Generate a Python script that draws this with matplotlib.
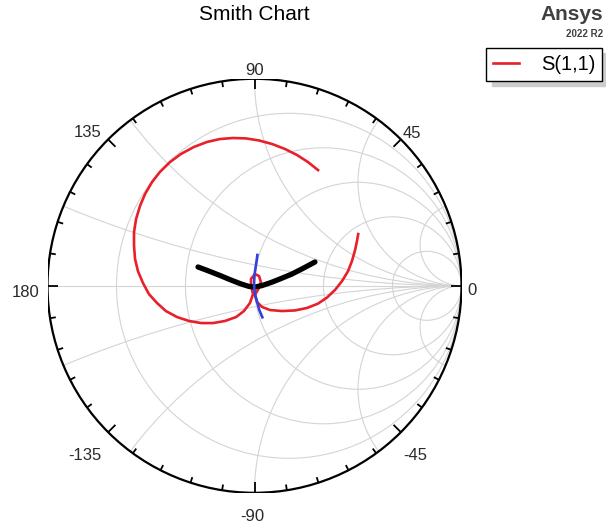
import numpy as np
import matplotlib
matplotlib.use('Agg')
import matplotlib.pyplot as plt
from matplotlib.patches import Circle

plt.rcParams['font.family'] = ['Liberation Sans', 'DejaVu Sans']

s11_re = [0.307, 0.258, 0.205, 0.147, 0.085, 0.022, -0.041, -0.104, -0.167, -0.229,
          -0.292, -0.355, -0.408, -0.457, -0.495, -0.529, -0.553, -0.572, -0.582, -0.582,
          -0.577, -0.563, -0.539, -0.510, -0.471, -0.428, -0.374, -0.316, -0.258, -0.200,
          -0.143, -0.089, -0.051, -0.022, -0.007,
          -0.017, -0.017, 0.002, 0.022, 0.031, 0.019, 0.002, 0.012, 0.036,
          0.075, 0.133, 0.196, 0.254, 0.307, 0.350, 0.389, 0.423, 0.452, 0.471,
          0.486, 0.495, 0.501]
s11_im = [0.559, 0.598, 0.632, 0.661, 0.685, 0.702, 0.712, 0.714, 0.709, 0.695,
          0.671, 0.637, 0.598, 0.550, 0.501, 0.443, 0.386, 0.323, 0.260, 0.192,
          0.129, 0.071, 0.014, -0.040, -0.083, -0.122, -0.151, -0.170, -0.180, -0.180,
          -0.170, -0.151, -0.122, -0.083, -0.040,
          -0.001, 0.033, 0.057, 0.047, 0.018, -0.015, -0.044, -0.078, -0.102,
          -0.117, -0.122, -0.119, -0.107, -0.086, -0.057, -0.020, 0.023, 0.071, 0.120,
          0.173, 0.216, 0.250]

# black trace
black_re = [-0.273, -0.220, -0.167, -0.114, -0.065, -0.027, 0.002, 0.036, 0.080,
            0.128, 0.181, 0.234, 0.292]
black_im = [0.091, 0.071, 0.050, 0.028, 0.009, -0.003, -0.006, 0.001, 0.016,
            0.035, 0.057, 0.084, 0.115]

# blue trace
blue_re = [0.014, 0.010, 0.005, 0.000, -0.002, -0.001, 0.005, 0.014, 0.023, 0.038]
blue_im = [0.149, 0.120, 0.086, 0.052, 0.018, -0.016, -0.050, -0.083, -0.117, -0.152]

# grid values (normalised resistance / reactance)
r_values = [0.2, 0.5, 1, 2, 5]
x_values = [0.2, 0.5, 1, 2, 5]
angle_labels = ['0', '45', '90', '135', '180', '-135', '-90', '-45']

grid_col = '#d4d4d4'

fig = plt.figure(figsize=(6.06, 5.24), dpi=100)
ax = fig.add_axes([47.5 / 606, 31.2 / 524, 414 / 606, 414 / 524])
ax.set_xlim(-1, 1)
ax.set_ylim(-1, 1)
ax.axis('off')

unit = Circle((0, 0), 1, transform=ax.transData)

# constant resistance circles
for r in r_values:
    ax.add_patch(Circle((r / (1 + r), 0), 1 / (1 + r), fill=False, ec=grid_col, lw=0.8, zorder=1))

# constant reactance arcs
for x in x_values:
    for sgn in (1, -1):
        arc = Circle((1, sgn / x), 1 / x, fill=False, ec=grid_col, lw=0.8, zorder=1)
        ax.add_patch(arc)
        arc.set_clip_path(unit)

ax.plot([-1, 1], [0, 0], color=grid_col, lw=0.8, zorder=1)

# outer boundary and angle ticks
ax.add_patch(Circle((0, 0), 1, fill=False, ec='black', lw=1.6, zorder=6))
for a in range(0, 360, 9):
    t = np.deg2rad(a)
    L = 0.05 if a % 45 == 0 else 0.028
    ax.plot([np.cos(t) * (1 - L), np.cos(t)], [np.sin(t) * (1 - L), np.sin(t)],
            color='black', lw=1.3, zorder=6, solid_capstyle='butt')

# angle labels: (x, y, ha)
label_pos = [(1.028, -0.044, 'left'), (0.717, 0.714, 'left'), (0.0, 1.018, 'center'),
             (-0.738, 0.720, 'right'), (-1.040, -0.053, 'right'), (-0.738, -0.842, 'right'),
             (-0.011, -1.136, 'center'), (0.719, -0.842, 'left')]
for lab, (lx, ly, ha) in zip(angle_labels, label_pos):
    ax.text(lx, ly, lab, ha=ha, va='baseline', fontsize=12, color='#2a2a2a', clip_on=False)

# traces
red, = ax.plot(s11_re, s11_im, color='#e8202a', lw=1.9, zorder=3, label='S(1,1)',
               solid_joinstyle='round')
ax.plot(black_re, black_im, color='black', lw=3.8, zorder=4, solid_capstyle='round',
        solid_joinstyle='round')
ax.plot(blue_re, blue_im, color='#3540d8', lw=1.9, zorder=5, solid_joinstyle='round')

fig.text(254 / 606, 1 - 14 / 524, 'Smith Chart', ha='center', va='center', fontsize=15)
fig.text(603 / 606, 1 - 20 / 524, 'Ansys', ha='right', va='baseline', fontsize=15,
         fontweight='bold', color='#404040')
fig.text(603 / 606, 1 - 37 / 524, '2022 R2', ha='right', va='baseline', fontsize=7,
         fontweight='bold', color='#404040')

leg = fig.legend(handles=[red], loc='upper right',
                 bbox_to_anchor=(602.3 / 606, 1 - 48.3 / 524), borderaxespad=0,
                 fontsize=14.5, handlelength=1.3, handletextpad=1.1, borderpad=0.33,
                 fancybox=False, framealpha=1, edgecolor='black',
                 shadow={'ox': 4.3, 'oy': -3.6, 'color': '#cdcdcd', 'alpha': 1})
leg.get_frame().set_linewidth(1.0)

fig.savefig('out.png', dpi=100)
